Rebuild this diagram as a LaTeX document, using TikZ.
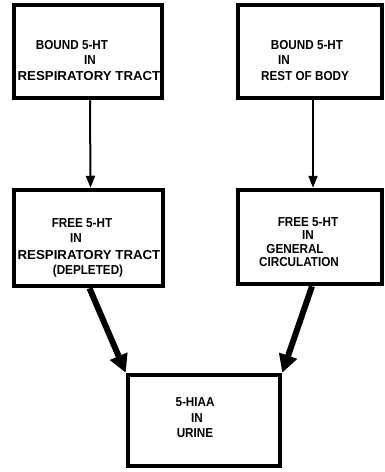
\documentclass[tikz,border=0pt]{standalone}
\usepackage{fontspec}
\setmainfont{Liberation Sans}
\usetikzlibrary{arrows.meta,calc}
\tikzset{
  box/.style={draw=black, line width=4.5pt, rectangle, inner sep=0pt},
  txt/.style={font=\fontsize{13}{14}\selectfont\bfseries, inner sep=0pt, anchor=center, xscale=0.9},
  widetxt/.style={font=\fontsize{13}{14}\selectfont\bfseries, inner sep=0pt, anchor=center, xscale=1.02},
  thinarrow/.style={line width=2pt, -{Triangle[length=12pt,width=9pt]}},
  thickarrow/.style={line width=6pt, -{Triangle[length=18pt,width=18pt]}}
}
\begin{document}
\begin{tikzpicture}[x=1pt,y=-1pt]
\useasboundingbox (0,0) rectangle (385,472);
% boxes
\node[box, minimum width=148pt, minimum height=93pt] (b1) at (88,51.5) {};
\node[box, minimum width=144pt, minimum height=93pt] (b2) at (310,51.5) {};
\node[box, minimum width=149pt, minimum height=96pt] (b3) at (88.5,238) {};
\node[box, minimum width=144pt, minimum height=94pt] (b4) at (310,237) {};
\node[box, minimum width=152pt, minimum height=91pt] (b5) at (204,420.5) {};
% box texts
\node[txt] (t1a) at (72,45) {BOUND 5-HT};
\node[txt] (t1b) at (90,60) {IN};
\node[widetxt] (t1c) at (89,76) {RESPIRATORY TRACT};
\node[txt] (t2a) at (307,45) {BOUND 5-HT};
\node[txt] (t2b) at (284,60) {IN};
\node[txt] (t2c) at (305,76) {REST OF BODY};
\node[txt] (t3a) at (82,223) {FREE 5-HT};
\node[txt] (t3b) at (76,238) {IN};
\node[widetxt] (t3c) at (89,255) {RESPIRATORY TRACT};
\node[txt] (t3d) at (88,271) {(DEPLETED)};
\node[txt] (t4a) at (308,222) {FREE 5-HT};
\node[txt] (t4b) at (308,235) {IN};
\node[txt] (t4c) at (295,249) {GENERAL};
\node[txt] (t4d) at (299,262) {CIRCULATION};
\node[txt] (t5a) at (195,402) {5-HIAA};
\node[txt] (t5b) at (197,418) {IN};
\node[txt] (t5c) at (195,433) {URINE};
% connectors
\draw[thinarrow] ([xshift=2pt]b1.south) -- ([xshift=2pt]b3.north);
\draw[thinarrow] ([xshift=3pt]b2.south) -- ([xshift=3pt]b4.north);
\draw[thickarrow] ([xshift=1pt]b3.south) -- (b5.north west);
\draw[thickarrow] ([xshift=2pt]b4.south) -- (b5.north east);
\end{tikzpicture}
\end{document}
